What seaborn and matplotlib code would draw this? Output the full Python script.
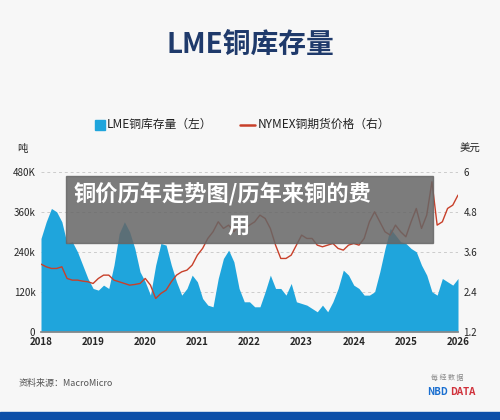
import numpy as np
import matplotlib
matplotlib.use("Agg")
import matplotlib.pyplot as plt
import seaborn as sns
from matplotlib.patches import Rectangle

sns.set_theme(style="white")
plt.rcParams["font.family"] = ["Noto Sans CJK SC", "DejaVu Sans"]

# time grid every 0.1 year, 2018.0 .. 2026.0
years = [2018 + i / 10 for i in range(81)]
stock_k = [280, 330, 370, 360, 330, 265, 270, 240, 200, 160,
           130, 125, 140, 130, 200, 295, 330, 300, 250, 180,
           150, 110, 200, 265, 260, 200, 150, 110, 130, 170,
           150, 100, 80, 75, 160, 220, 245, 210, 130, 90,
           90, 75, 75, 120, 170, 130, 130, 110, 145, 90,
           85, 80, 70, 60, 80, 60, 90, 130, 185, 170,
           140, 130, 110, 110, 120, 180, 250, 310, 290, 270,
           265, 250, 240, 200, 170, 120, 110, 160, 150, 140, 160]
price = [3.23, 3.15, 3.1, 3.1, 3.15, 2.8, 2.75, 2.75, 2.72, 2.7,
         2.65, 2.8, 2.9, 2.9, 2.75, 2.7, 2.65, 2.6, 2.62, 2.65,
         2.8, 2.6, 2.2, 2.35, 2.45, 2.7, 2.9, 3.0, 3.05, 3.2,
         3.5, 3.7, 4.0, 4.2, 4.5, 4.3, 4.4, 4.2, 4.4, 4.3,
         4.4, 4.5, 4.7, 4.6, 4.3, 3.8, 3.4, 3.4, 3.5, 3.8,
         4.1, 4.0, 4.0, 3.8, 3.75, 3.8, 3.85, 3.7, 3.65, 3.8,
         3.85, 3.8, 4.0, 4.5, 4.8, 4.5, 4.2, 4.1, 4.4, 4.2,
         4.05, 4.5, 4.9, 4.3, 4.7, 5.7, 4.4, 4.5, 4.9, 5.0, 5.3]

blue = "#1fa5dc"
red = "#c8402a"
bg = "#f7f7f7"

fig = plt.figure(figsize=(5, 4.2), dpi=100, facecolor=bg)
ax = fig.add_axes([0.082, 0.21, 0.834, 0.381])
ax.set_facecolor(bg)
ax.fill_between(years, 0, stock_k, color=blue, lw=0)
ax.set_xlim(2018, 2026)
ax.set_ylim(0, 480)
ax.set_yticks([0, 120, 240, 360, 480])
ax.set_yticklabels(["0", "120k", "240k", "360k", "480K"], fontsize=7)
ax.set_xticks(range(2018, 2027))
ax.set_xticklabels([str(y) for y in range(2018, 2027)], fontsize=7, fontweight="bold")
ax.grid(axis="y", ls=(0, (3, 3)), color="#cccccc", lw=0.7)
for s in ["top", "right", "left"]:
    ax.spines[s].set_visible(False)
ax.spines["bottom"].set_color("#888888")
ax.tick_params(axis="both", length=0, pad=4)

ax2 = ax.twinx()
sns.lineplot(x=years, y=price, ax=ax2, color=red, lw=1.0)
ax2.set_ylim(1.2, 6)
ax2.set_yticks([1.2, 2.4, 3.6, 4.8, 6])
ax2.set_yticklabels(["1.2", "2.4", "3.6", "4.8", "6"], fontsize=7)
ax2.tick_params(axis="y", length=0, pad=4)
for s in ax2.spines.values():
    s.set_visible(False)

fig.text(0.5, 0.893, "LME铜库存量", ha="center", va="center", fontsize=20,
         fontweight="bold", color="#1f3a6b")
# legend
fig.patches.append(Rectangle((0.19, 0.69), 0.02, 0.024, transform=fig.transFigure, color=blue))
fig.text(0.213, 0.703, "LME铜库存量（左）", fontsize=8.5, va="center", color="#222222")
fig.lines.append(plt.Line2D([0.48, 0.51], [0.703, 0.703], transform=fig.transFigure, color=red, lw=1.8))
fig.text(0.515, 0.703, "NYMEX铜期货价格（右）", fontsize=8.5, va="center", color="#222222")
fig.text(0.035, 0.638, "吨", fontsize=7.5, color="#222222")
fig.text(0.92, 0.638, "美元", fontsize=7.5, color="#222222")

# grey overlay with caption
fig.patches.append(Rectangle((0.132, 0.421), 0.734, 0.16, transform=fig.transFigure,
                             color="#666666", alpha=0.85, zorder=10))
fig.text(0.148, 0.54, "铜价历年走势图/历年来铜的费", fontsize=16, fontweight="bold",
         color="white", va="center", zorder=11)
fig.text(0.478, 0.462, "用", fontsize=16, fontweight="bold", color="white",
         va="center", ha="center", zorder=11)

fig.text(0.038, 0.08, "资料来源：MacroMicro", fontsize=6.5, color="#555555")
fig.text(0.895, 0.095, "每 经 数 据", fontsize=5, color="#888888", ha="center")
fig.text(0.895, 0.06, "NBD", fontsize=7, color="#1a6fd0", fontweight="bold", ha="right")
fig.text(0.9, 0.06, "DATA", fontsize=7, color="#d0303a", fontweight="bold", ha="left")
fig.patches.append(Rectangle((0, 0), 1, 0.02, transform=fig.transFigure, color="#0c4fa8"))

fig.savefig("out.png", dpi=100, facecolor=bg)
